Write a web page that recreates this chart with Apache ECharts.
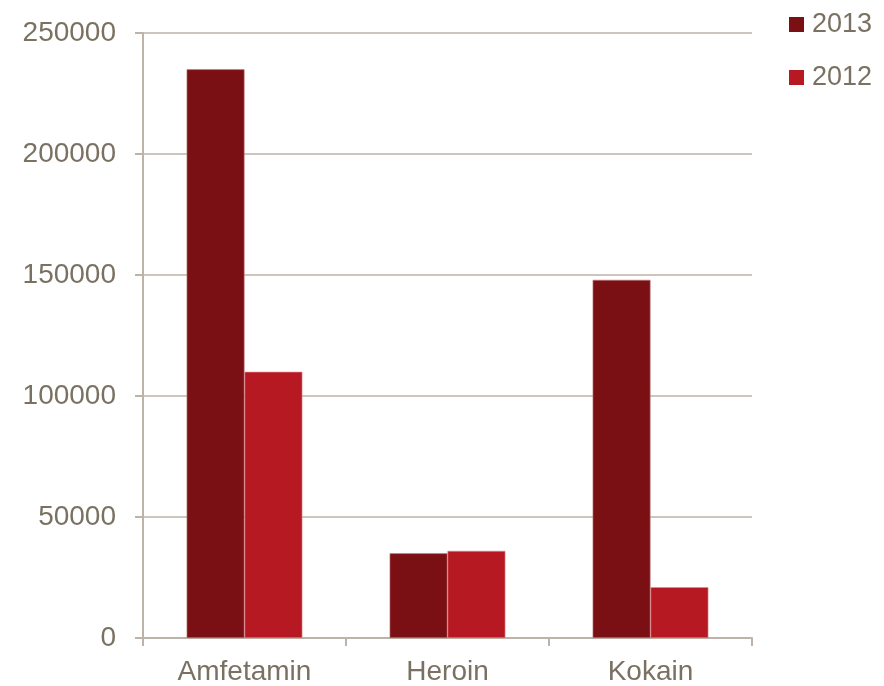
<!DOCTYPE html>
<html><head><meta charset="utf-8">
<script src="https://cdn.jsdelivr.net/npm/echarts@6/dist/echarts.min.js"></script>
<style>html,body{margin:0;padding:0;background:#fff}#c{width:884px;height:686px}</style>
</head><body><div id="c"></div>
<script>
var categories = ['Amfetamin', 'Heroin', 'Kokain'];
var series2013 = [235000, 35000, 148000];
var series2012 = [110000, 36000, 21000];
var yTicks = [0, 50000, 100000, 150000, 200000, 250000];

var textColor = '#7a7162';
var lineColor = '#bdb3a9';
var chart = echarts.init(document.getElementById('c'));
chart.setOption({
  animation: false,
  textStyle: {fontFamily: 'Liberation Sans, Arial, sans-serif'},
  grid: {left: 143, right: 132, top: 33, bottom: 48, containLabel: false},
  legend: {
    orient: 'vertical', left: 789, top: 11, itemWidth: 15, itemHeight: 15, itemGap: 26,
    icon: 'rect', padding: 0,
    itemStyle: {borderWidth: 0},
    textStyle: {color: textColor, fontSize: 27, padding: [0, 0, 0, 3], fontFamily: 'Liberation Sans, Arial, sans-serif'},
    data: ['2013', '2012']
  },
  xAxis: {
    type: 'category', data: categories,
    axisLine: {lineStyle: {color: lineColor, width: 2}},
    axisTick: {show: true, length: 8, alignWithLabel: false, lineStyle: {color: lineColor, width: 2}},
    axisLabel: {color: textColor, fontSize: 28, margin: 20}
  },
  yAxis: {
    type: 'value', min: yTicks[0], max: yTicks[yTicks.length - 1], interval: 50000,
    axisLine: {show: true, lineStyle: {color: lineColor, width: 2}},
    axisTick: {show: true, length: 8, lineStyle: {color: lineColor, width: 2}},
    splitLine: {lineStyle: {color: lineColor, width: 1.5}},
    axisLabel: {color: textColor, fontSize: 28, margin: 27, padding: [0, 0, 4, 0], formatter: function (v) { return String(v); }}
  },
  series: [
    {name: '2013', type: 'bar', data: series2013, barGap: '0%', barCategoryGap: '43%',
     itemStyle: {color: '#7b1014', borderColor: '#c47a7c', borderWidth: 0.6}},
    {name: '2012', type: 'bar', data: series2012, barGap: '0%', barCategoryGap: '43%',
     itemStyle: {color: '#b71922', borderColor: '#e08a8e', borderWidth: 0.6}}
  ]
});
</script></body></html>
